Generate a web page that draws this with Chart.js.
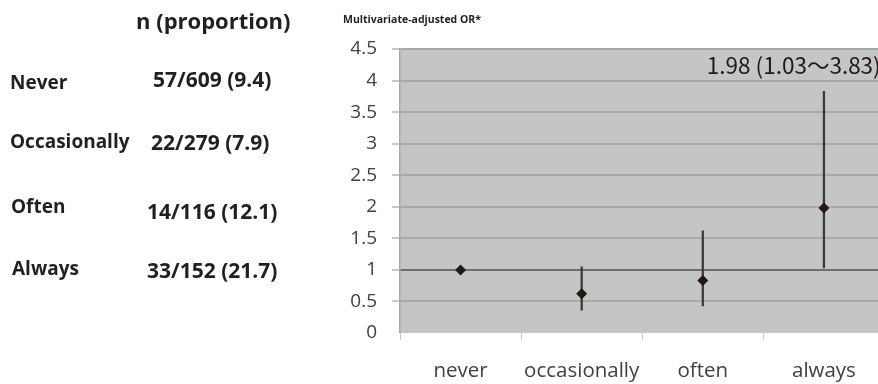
<!DOCTYPE html>
<html>
<head>
<meta charset="utf-8">
<script src="https://cdn.jsdelivr.net/npm/chart.js@4.4.1/dist/chart.umd.min.js"></script>
<style>
  html, body { margin: 0; padding: 0; background: #fff; overflow: hidden; width: 878px; height: 384px; }
  #wrap { position: relative; width: 878px; height: 384px; overflow: hidden; }
  #chart { position: absolute; left: 0; top: 0; }
  .t { position: absolute; white-space: nowrap; color: #231f20; font-family: "Open Sans", sans-serif; font-weight: bold; }
  .lab { font-size: 19px; }
  .val { font-size: 21px; }
  #head { left: 136px; top: 5px; font-size: 22px; }
  #ytitle { left: 343px; top: 12px; font-size: 10.5px; }
</style>
</head>
<body>
<div id="wrap">
  <canvas id="chart" width="890" height="384"></canvas>
  <div class="t" id="head">n (proportion)</div>
  <div class="t" id="ytitle">Multivariate-adjusted OR*</div>
</div>
<script>
// table on the left
const rowLabels = ["Never", "Occasionally", "Often", "Always"];
const rowCounts = ["57/609 (9.4)", "22/279 (7.9)", "14/116 (12.1)", "33/152 (21.7)"];

// chart
const categories = ["never", "occasionally", "often", "always"];
const orValues = [1.0, 0.62, 0.83, 1.98];
const ciLow = [null, 0.36, 0.43, 1.03];
const ciHigh = [null, 1.05, 1.62, 3.83];
const yTicks = { min: 0, max: 4.5, step: 0.5 };
const annotText = "1.98 (1.03～3.83)";

// rough positions for the table rows (centre y)
const labelY = [83, 142, 207, 269];
const labelX = [10, 10, 11, 12];
const valY = [80, 143, 212, 271];
const valX = [153, 151, 147, 147];

const wrap = document.getElementById("wrap");
rowLabels.forEach((s, i) => {
  const d = document.createElement("div");
  d.className = "t lab";
  d.textContent = s;
  d.style.left = labelX[i] + "px";
  d.style.top = (labelY[i] - 14) + "px";
  wrap.appendChild(d);
  const v = document.createElement("div");
  v.className = "t val";
  v.textContent = rowCounts[i];
  v.style.left = valX[i] + "px";
  v.style.top = (valY[i] - 15) + "px";
  wrap.appendChild(v);
});

const ciData = categories.map((c, i) => ciLow[i] == null ? null : [ciLow[i], ciHigh[i]]);

const plotBg = {
  id: "plotBg",
  beforeDraw(chart) {
    const a = chart.chartArea, ctx = chart.ctx;
    ctx.save();
    ctx.fillStyle = "#c4c5c5";
    ctx.fillRect(a.left, a.top, a.right - a.left, a.bottom - a.top);
    ctx.restore();
  }
};

const annot = {
  id: "annot",
  afterDatasetsDraw(chart) {
    const x = chart.scales.x, y = chart.scales.y, ctx = chart.ctx;
    ctx.save();
    ctx.font = '22.5px "Noto Sans CJK JP", "Open Sans", sans-serif';
    ctx.fillStyle = "#231815";
    ctx.textBaseline = "middle";
    ctx.textAlign = "left";
    ctx.fillText(annotText, x.getPixelForValue(2) + 4, y.getPixelForValue(4.24));
    ctx.restore();
  }
};

new Chart(document.getElementById("chart"), {
  data: {
    labels: categories,
    datasets: [
      {
        type: "line",
        data: orValues,
        showLine: false,
        pointStyle: "rectRot",
        pointRadius: 5.5,
        pointBackgroundColor: "#231815",
        pointBorderColor: "#231815",
        pointBorderWidth: 0,
        order: 0
      },
      {
        type: "bar",
        data: ciData,
        backgroundColor: "#3a3a3a",
        barThickness: 1.6,
        borderSkipped: false,
        order: 1
      }
    ]
  },
  options: {
    responsive: false,
    animation: false,
    events: [],
    layout: { padding: { left: 0, top: 49, right: 5, bottom: 0 } },
    plugins: { legend: { display: false }, tooltip: { enabled: false } },
    scales: {
      x: {
        offset: true,
        afterFit(s) { s.height = 51; },
        grid: { offset: true, drawOnChartArea: false, drawTicks: true, tickLength: 7, tickColor: "#c8c8c8" },
        border: { display: false },
        ticks: {
          color: "#404040",
          padding: 19,
          autoSkip: false,
          minRotation: 0,
          maxRotation: 0,
          font: { family: "Open Sans", size: 20.5 }
        }
      },
      y: {
        min: yTicks.min,
        max: yTicks.max,
        afterFit(s) { s.width = 400; },
        ticks: {
          stepSize: yTicks.step,
          color: "#404040",
          padding: 15,
          font: { family: "Open Sans", size: 19 },
          callback: (v) => String(v)
        },
        grid: {
          color: (c) => (c.tick && c.tick.value === 1 ? "#6e6e6e" : "#a9a9a9"),
          lineWidth: (c) => (c.tick && c.tick.value === 0 ? 0 : 2),
          tickColor: "#c8c8c8",
          tickLength: 8
        },
        border: { display: true, color: "#a8a8a8", width: 1.5 }
      }
    }
  },
  plugins: [plotBg, annot]
});
</script>
</body>
</html>
